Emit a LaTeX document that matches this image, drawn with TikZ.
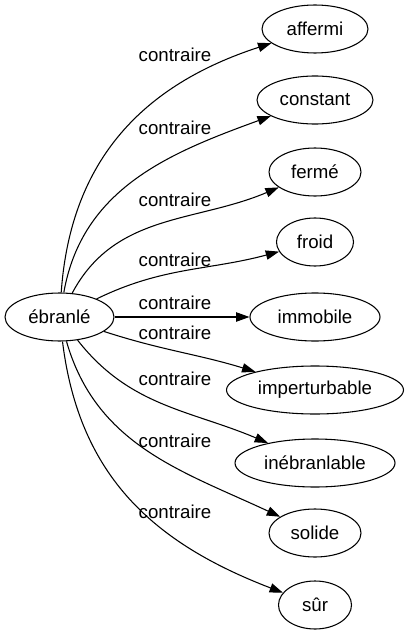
\documentclass[tikz,border=0pt]{standalone}
\usepackage{fontspec}
\setmainfont{Liberation Sans}
\usepackage{tikz}
\usetikzlibrary{arrows.meta}
\usetikzlibrary{shapes.geometric}
\tikzset{basic vertex/.style={draw,ellipse,inner sep=0pt,line width=.8pt}}
\tikzset{word/.style={font=\fontsize{14}{16}\selectfont}}
\tikzset{my edge/.style={draw,
                      line width=.8pt,
                      -{Triangle[length=10pt,width=7pt]}}}
\newcommand{\REL}{contraire}

\begin{document}
\begin{tikzpicture}
      [
      x=.75pt,y=.75pt,
      my vertex/.style={basic vertex,
      word,
      minimum height=36pt},
      ]
      \useasboundingbox (0,0) rectangle (408,-635);

      % vertices
      \node [my vertex,minimum width=81.75pt] (V0) at (59.5,-317) {ébranlé};
      \foreach \i/\y/\w/\l in
      {
      1/29/106/affermi,
      2/100/116/constant,
      3/172/92/fermé,
      4/242/77/froid,
      5/317/130/immobile,
      6/390/177/imperturbable,
      7/463/160/inébranlable,
      8/533/92/solide,
      9/605/73/sûr
      }
      {
      \node [my vertex,minimum width=\w*0.75pt] (V\i) at (315,-\y) {\l};
      }

      % edges
      \foreach \i/\o/\n/\s in
      {
      1/86/198/1.05,
      2/80/200/1,
      3/62/203/1,
      4/26/195/1,
      5/0/180/1,
      6/-18/163/1,
      7/-52/157/1,
      8/-74/155/1,
      9/-83/159/1.05
      }
      {
      \path [my edge] (V0) to [out=\o,in=\n,looseness=\s] (V\i);
      }

      % labels
      \foreach \i/\y in {1/55,2/128,3/200,4/260,5/303,6/333,7/379,8/441,9/512}
      {
      \node [word,inner sep=0pt] (L\i) at (175,-\y) {\REL};
      }

\end{tikzpicture}
\end{document}
